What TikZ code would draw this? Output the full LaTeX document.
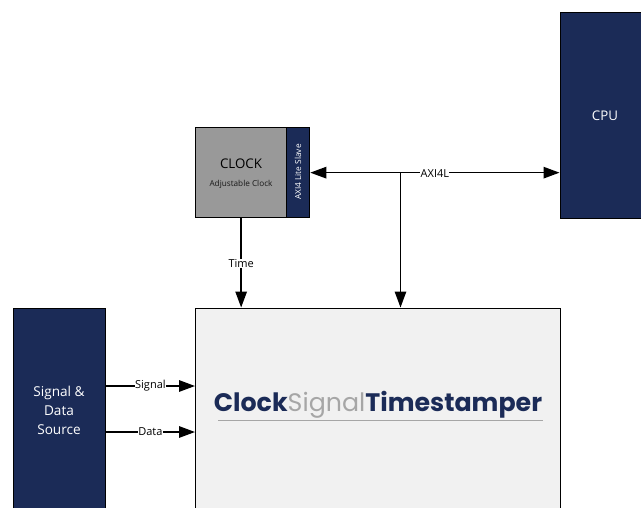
\documentclass[tikz,border=0pt]{standalone}
\usepackage{fontspec}
\setmainfont{Open Sans}
\newfontfamily\logofont{Poppins}
\usetikzlibrary{arrows.meta}
\definecolor{navy}{HTML}{1B2B57}
\definecolor{clockgray}{HTML}{999999}
\definecolor{panel}{HTML}{F1F1F1}
\definecolor{logogray}{HTML}{A6A6A6}
\tikzset{
  x=1pt,y=-1pt,
  navybox/.style={draw=black,line width=1.3pt,fill=navy,text=white,inner sep=0pt,anchor=north west},
  wire/.style={draw=black,line width=1.4pt,-{Triangle[length=16pt,width=11.5pt]}},
  wirelabel/.style={fill=white,inner sep=0.3pt,text=black,font=\fontsize{11}{13}\selectfont},
}
\begin{document}
\begin{tikzpicture}
\useasboundingbox (0,0) rectangle (641,507);
\clip (0,0) rectangle (641,507);
% boxes
\node[navybox,minimum width=100pt,minimum height=206pt] (cpu) at (559.5,11.5) {};
\node[text=white,font=\fontsize{13.3}{16}\selectfont] (cputext) at (605,115.5) {CPU};
\node[navybox,minimum width=92pt,minimum height=230pt] (src) at (12.5,307.5) {};
\node[text=white,align=center,font=\fontsize{13.6}{19}\selectfont] (srctext) at (59,410) {Signal \&\\Data\\Source};
\node[draw=black,line width=1.3pt,fill=panel,anchor=north west,inner sep=0pt,minimum width=365pt,minimum height=230pt] (main) at (195,307.5) {};
\node[draw=black,line width=1.3pt,fill=clockgray,anchor=north west,inner sep=0pt,minimum width=91pt,minimum height=90pt] (clock) at (195,127) {};
\node[draw=black,line width=1.3pt,fill=navy,anchor=north west,inner sep=0pt,minimum width=23pt,minimum height=90pt] (slave) at (286,127) {};
\node[text=black,font=\fontsize{13.3}{16}\selectfont] (clocktitle) at (241,163.5) {CLOCK};
\node[text=black!90,font=\fontsize{8.2}{10}\selectfont] (clocksub) at (241,184.5) {Adjustable Clock};
\node[text=white,rotate=90,font=\fontsize{8.3}{10}\selectfont] (slavetext) at (298,172) {AXI4 Lite Slave};
% logo
\node[inner sep=0pt,anchor=base] (logo) at (378,411) {\logofont\fontsize{25.3}{30}\selectfont\color{navy}\textbf{Clock}\color{logogray}Signal\color{navy}\textbf{Timestamper}};
\coordinate (ruleL) at (218,420.5);
\coordinate (ruleR) at (543,420.5);
\draw[logogray,line width=0.8pt] (ruleL) -- (ruleR);
% connectors
\coordinate (junction) at (400.5,172.5);
\draw[wire,{Triangle[length=16pt,width=11.5pt]}-{Triangle[length=16pt,width=11.5pt]}] (slave.east) -- (cpu.west |- slave.east) node[wirelabel,pos=0.5,yshift=-0.5pt] (axilabel) {AXI4L};
\draw[wire] (junction) -- (junction |- main.north);
\draw[wire] (clock.south) -- (clock.south |- main.north) node[wirelabel,pos=0.5,yshift=-0.5pt] (timelabel) {Time};
\coordinate (sigL) at (src.east |- 0,386);
\coordinate (datL) at (src.east |- 0,432);
\draw[wire] (sigL) -- (main.west |- sigL) node[wirelabel,pos=0.5] (siglabel) {Signal};
\draw[wire] (datL) -- (main.west |- datL) node[wirelabel,pos=0.5] (datlabel) {Data};
\end{tikzpicture}
\end{document}
